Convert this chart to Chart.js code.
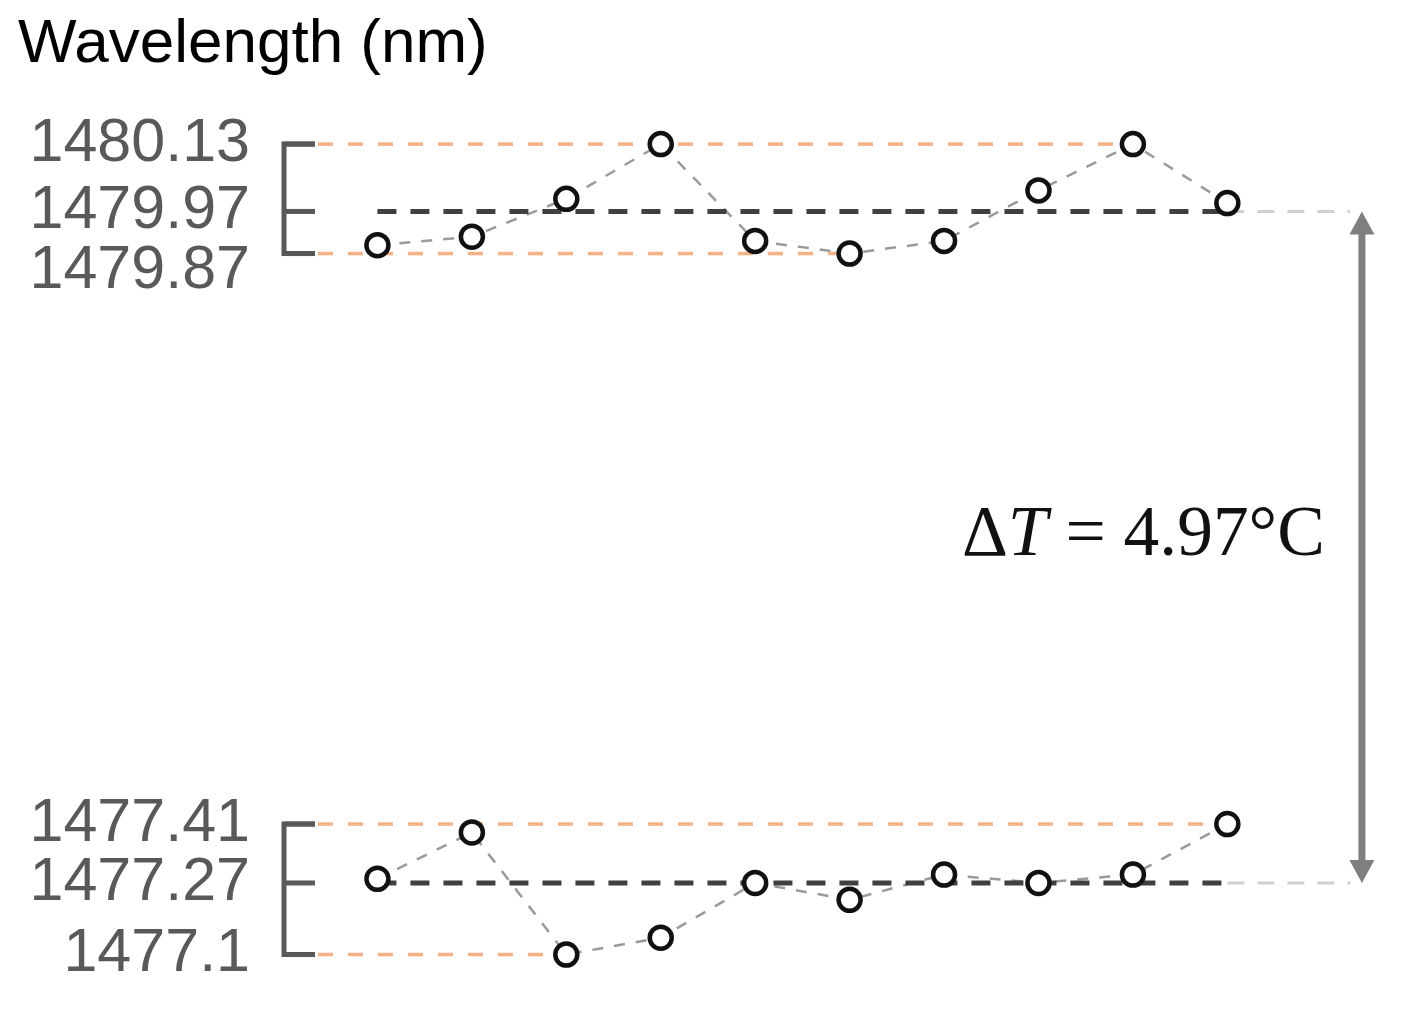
<!DOCTYPE html>
<html>
<head>
<meta charset="utf-8">
<script src="https://cdn.jsdelivr.net/npm/chart.js@4.4.1/dist/chart.umd.min.js"></script>
<style>
  html, body { margin: 0; padding: 0; background: #ffffff; }
  canvas { display: block; }
</style>
</head>
<body>
<canvas id="chart" width="1404" height="1016"></canvas>
<script>
// ---------------- data ----------------
const RUNS = [1, 2, 3, 4, 5, 6, 7, 8, 9, 10];
const UPPER_WL = [1479.89, 1479.91, 1480.00, 1480.13, 1479.90, 1479.87, 1479.90, 1480.02, 1480.13, 1479.99];
const LOWER_WL = [1477.28, 1477.39, 1477.10, 1477.14, 1477.27, 1477.23, 1477.29, 1477.27, 1477.29, 1477.41];
const UPPER_TICKS = [1479.87, 1479.97, 1480.13];   // min, mean, max
const LOWER_TICKS = [1477.1, 1477.27, 1477.41];    // min, mean, max
const TICK_VALUES = [...LOWER_TICKS, ...UPPER_TICKS];
const TICK_LABELS = ['1477.1', '1477.27', '1477.41', '1479.87', '1479.97', '1480.13'];
const TITLE = 'Wavelength (nm)';
const DELTA_LABEL = ['Δ', 'T', ' = 4.97°C'];

// ---------------- axis / layout settings ----------------
const AXIS = { min: 1476.992, max: 1480.211, breakLo: 1477.6, breakHi: 1479.7, gapVirtual: 0.9952 };
const XR = { min: 0, max: 11.5, refStart: 0.37, extEnd: 11.3, arrowX: 11.425 };
const LABEL_SHIFT = { '1479.87': 18 };

function toVirtual(v) {
  const { breakLo: lo, breakHi: hi, gapVirtual: g } = AXIS;
  if (v <= lo) return v;
  if (v >= hi) return v - (hi - lo) + g;
  return lo + (v - lo) * g / (hi - lo);
}
function fromVirtual(u) {
  const { breakLo: lo, breakHi: hi, gapVirtual: g } = AXIS;
  if (u <= lo) return u;
  if (u >= lo + g) return u + (hi - lo) - g;
  return lo + (u - lo) * (hi - lo) / g;
}

class BrokenLinearScale extends Chart.LinearScale {
  getPixelForValue(value) {
    if (value === null || value === undefined || isNaN(value)) return NaN;
    const a = toVirtual(this.min), b = toVirtual(this.max);
    return this.getPixelForDecimal((toVirtual(value) - a) / (b - a));
  }
  getValueForPixel(pixel) {
    const a = toVirtual(this.min), b = toVirtual(this.max);
    return fromVirtual(a + this.getDecimalForPixel(pixel) * (b - a));
  }
  _computeLabelItems(chartArea) {
    const items = super._computeLabelItems(chartArea);
    items.forEach((item, i) => {
      const t = this.ticks[i];
      const s = t ? LABEL_SHIFT[String(t.value)] : 0;
      if (s && item.options && item.options.translation) item.options.translation[1] += s;
    });
    return items;
  }
}
BrokenLinearScale.id = 'brokenLinear';
BrokenLinearScale.defaults = {};
Chart.register(BrokenLinearScale);

const pts = (vals) => vals.map((v, i) => ({ x: RUNS[i], y: v }));
const hline = (x0, x1, v) => [{ x: x0, y: v }, { x: x1, y: v }];
const lastIdx = (arr, v) => arr.lastIndexOf(v);

const ORANGE = '#F4B183';
const orangeDs = (x1, v) => ({
  data: hline(XR.refStart, x1, v), borderColor: ORANGE, borderWidth: 3.5,
  borderDash: [15, 15], pointRadius: 0, order: 4
});

const upMax = Math.max(...UPPER_WL), upMin = Math.min(...UPPER_WL);
const loMax = Math.max(...LOWER_WL), loMin = Math.min(...LOWER_WL);

const markerStyle = { showLine: false, pointRadius: 11, pointBorderWidth: 4.5,
  pointBorderColor: '#111111', pointBackgroundColor: '#ffffff', order: 0 };

const datasets = [
  // markers
  { data: pts(UPPER_WL), ...markerStyle },
  { data: pts(LOWER_WL), ...markerStyle },
  // mean lines
  { data: hline(RUNS[0], RUNS[RUNS.length - 1], UPPER_TICKS[1]), borderColor: '#404040', borderWidth: 5,
    borderDash: [19, 14], pointRadius: 0, order: 1 },
  { data: hline(RUNS[0], RUNS[RUNS.length - 1], LOWER_TICKS[1]), borderColor: '#404040', borderWidth: 5,
    borderDash: [19, 14], pointRadius: 0, order: 1 },
  // connecting data lines
  { data: pts(UPPER_WL), borderColor: '#9A9A9A', borderWidth: 2.5, borderDash: [11, 11], pointRadius: 0, order: 2 },
  { data: pts(LOWER_WL), borderColor: '#9A9A9A', borderWidth: 2.5, borderDash: [11, 11], pointRadius: 0, order: 2 },
  // grey extension to arrow
  { data: hline(RUNS[RUNS.length - 1], XR.extEnd, UPPER_TICKS[1]), borderColor: '#D0D0D0', borderWidth: 3,
    borderDash: [17, 13], pointRadius: 0, order: 3 },
  { data: hline(RUNS[RUNS.length - 1], XR.extEnd, LOWER_TICKS[1]), borderColor: '#D0D0D0', borderWidth: 3,
    borderDash: [17, 13], pointRadius: 0, order: 3 },
  // orange max/min reference lines
  orangeDs(RUNS[lastIdx(UPPER_WL, upMax)], upMax),
  orangeDs(RUNS[lastIdx(UPPER_WL, upMin)], upMin),
  orangeDs(RUNS[lastIdx(LOWER_WL, loMax)], loMax),
  orangeDs(RUNS[lastIdx(LOWER_WL, loMin)], loMin)
];

const overlay = {
  id: 'overlay',
  afterDatasetsDraw(chart) {
    const { ctx, chartArea, scales: { x, y } } = chart;
    ctx.save();
    // brackets
    const bx = chartArea.left + 1, tick = 31;
    ctx.strokeStyle = '#595959';
    ctx.lineWidth = 5;
    ctx.lineCap = 'butt';
    ctx.lineJoin = 'miter';
    [UPPER_TICKS, LOWER_TICKS].forEach(tks => {
      const ys = tks.map(v => y.getPixelForValue(v));
      const top = Math.min(...ys), bot = Math.max(...ys);
      ctx.beginPath();
      ctx.moveTo(bx + tick, top); ctx.lineTo(bx, top); ctx.lineTo(bx, bot); ctx.lineTo(bx + tick, bot);
      ctx.stroke();
      ys.forEach(yy => { ctx.beginPath(); ctx.moveTo(bx, yy); ctx.lineTo(bx + tick, yy); ctx.stroke(); });
    });
    // double arrow
    const ax = x.getPixelForValue(XR.arrowX);
    const y1 = y.getPixelForValue(UPPER_TICKS[1]);
    const y2 = y.getPixelForValue(LOWER_TICKS[1]);
    const hl = 23, hw = 12.5, sw = 7;
    ctx.fillStyle = '#7F7F7F';
    ctx.fillRect(ax - sw / 2, y1 + hl - 1, sw, (y2 - y1) - 2 * hl + 2);
    ctx.beginPath(); ctx.moveTo(ax, y1); ctx.lineTo(ax + hw, y1 + hl); ctx.lineTo(ax - hw, y1 + hl); ctx.closePath(); ctx.fill();
    ctx.beginPath(); ctx.moveTo(ax, y2); ctx.lineTo(ax + hw, y2 - hl); ctx.lineTo(ax - hw, y2 - hl); ctx.closePath(); ctx.fill();
    // label
    const fam = '"Liberation Serif", "DejaVu Serif", serif';
    const fonts = [s => `${s}px ${fam}`, s => `italic ${s}px ${fam}`, s => `${s}px ${fam}`];
    let w100 = 0;
    DELTA_LABEL.forEach((t, i) => { ctx.font = fonts[i](100); w100 += ctx.measureText(t).width; });
    const targetW = 363;
    const size = 100 * targetW / w100;
    let tx = ax - 37 - targetW;
    const base = (y1 + y2) / 2 + 8;
    ctx.fillStyle = '#111111';
    ctx.textBaseline = 'alphabetic';
    ctx.textAlign = 'left';
    DELTA_LABEL.forEach((t, i) => {
      ctx.font = fonts[i](size);
      ctx.fillText(t, tx, base);
      tx += ctx.measureText(t).width;
    });
    ctx.restore();
  }
};

new Chart(document.getElementById('chart'), {
  type: 'line',
  data: { datasets },
  options: {
    responsive: false,
    animation: false,
    devicePixelRatio: 1,
    layout: { padding: { left: 18, right: 35, top: 0, bottom: 16 } },
    plugins: {
      legend: { display: false },
      tooltip: { enabled: false },
      title: {
        display: true, text: TITLE, align: 'start', color: '#000000',
        font: { family: '"Liberation Sans", Arial, sans-serif', size: 62, weight: 'normal', lineHeight: 1.2 },
        padding: { top: 8, bottom: 27.6 }
      }
    },
    scales: {
      x: { type: 'linear', min: XR.min, max: XR.max, display: false },
      y: {
        type: 'brokenLinear', position: 'left', min: AXIS.min, max: AXIS.max, bounds: 'data',
        grid: { display: false, drawTicks: false, tickLength: 0 },
        border: { display: false },
        afterBuildTicks: s => { s.ticks = TICK_VALUES.slice().sort((a, b) => a - b).map(v => ({ value: v })); },
        afterFit: s => { s.width = 265; s.paddingTop = 0; s.paddingBottom = 0; },
        ticks: {
          autoSkip: false, padding: 33, color: '#595959',
          font: { family: '"Liberation Sans", Arial, sans-serif', size: 61 },
          callback: (value) => {
            const i = TICK_VALUES.findIndex(v => Math.abs(v - value) < 1e-9);
            return i >= 0 ? TICK_LABELS[i] : '';
          }
        }
      }
    }
  },
  plugins: [overlay]
});
</script>
</body>
</html>
